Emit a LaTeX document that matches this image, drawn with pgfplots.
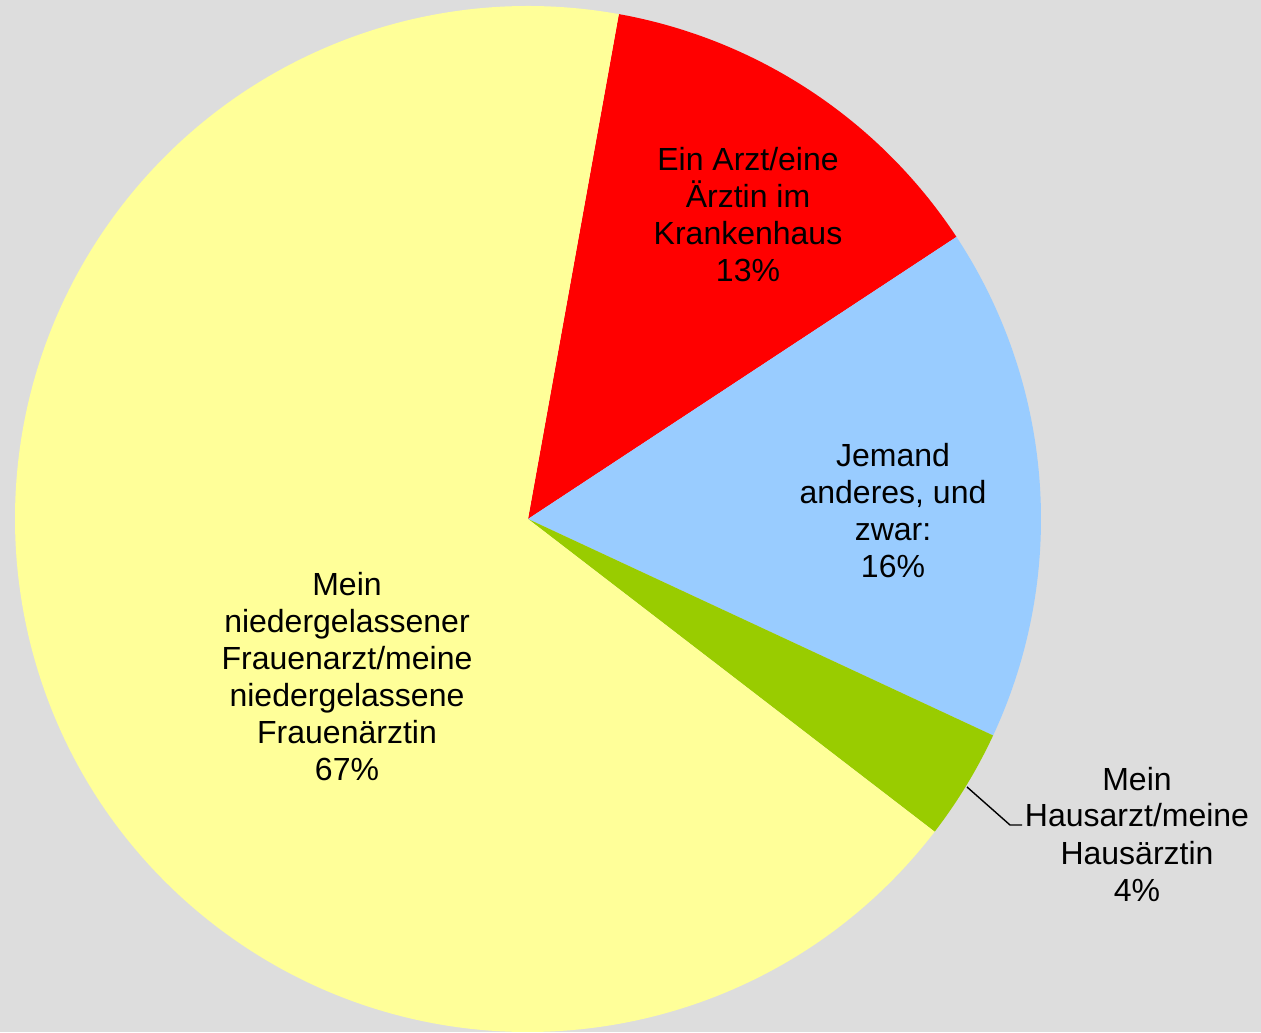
\documentclass[border=0pt]{standalone}
\usepackage{pgfplots}
\pgfplotsset{compat=1.18}
\usepackage{fontspec}
\setmainfont{Liberation Sans}
\definecolor{bg}{HTML}{DDDDDD}
\definecolor{pyellow}{HTML}{FFFF99}
\definecolor{pred}{HTML}{FF0000}
\definecolor{pblue}{HTML}{99CCFF}
\definecolor{pgreen}{HTML}{99CC00}
% slice values (percent), clockwise from the red slice
\def\vRed{12.9}
\def\vBlue{16.2}
\def\vGreen{3.5}
\def\vYellow{67.4}
\def\startang{79.8}
\pgfmathsetmacro\aA{\startang}
\pgfmathsetmacro\aB{\aA-\vRed*3.6}
\pgfmathsetmacro\aC{\aB-\vBlue*3.6}
\pgfmathsetmacro\aD{\aC-\vGreen*3.6}
\pgfmathsetmacro\aE{\aD-\vYellow*3.6}
\def\R{256.5pt}
\begin{document}
\begin{tikzpicture}
\begin{axis}[name=ax,x=0.5pt,y=0.5pt,xmin=0,xmax=1261,ymin=0,ymax=1032,hide axis,clip=false,xtick=\empty,ytick=\empty]
\fill[bg] (axis cs:0,0) rectangle (axis cs:1261,1032);
\fill[pred] (axis cs:528,513) -- ++(\aA:\R) arc[start angle=\aA,end angle=\aB,radius=\R] -- cycle;
\fill[pblue] (axis cs:528,513) -- ++(\aB:\R) arc[start angle=\aB,end angle=\aC,radius=\R] -- cycle;
\fill[pgreen] (axis cs:528,513) -- ++(\aC:\R) arc[start angle=\aC,end angle=\aD,radius=\R] -- cycle;
\fill[pyellow] (axis cs:528,513) -- ++(\aD:\R) arc[start angle=\aD,end angle=\aE,radius=\R] -- cycle;
\draw[black,line width=0.7pt] (axis cs:967,245) -- (axis cs:1010,207) -- (axis cs:1022,207);
\tikzset{lbl/.style={align=center,font=\fontsize{16pt}{18.5pt}\selectfont,inner sep=0pt}}
\node[lbl] at (axis cs:748,817) {Ein Arzt/eine\\Ärztin im\\Krankenhaus\\13\%};
\node[lbl] at (axis cs:893,521) {Jemand\\anderes, und\\zwar:\\16\%};
\node[lbl] at (axis cs:347,355.5) {Mein\\niedergelassener\\Frauenarzt/meine\\niedergelassene\\Frauenärztin\\67\%};
\node[lbl] at (axis cs:1137,198) {Mein\\Hausarzt/meine\\Hausärztin\\4\%};
\end{axis}
\pgfresetboundingbox
\path (ax.south west) rectangle (ax.north east);
\end{tikzpicture}
\end{document}
